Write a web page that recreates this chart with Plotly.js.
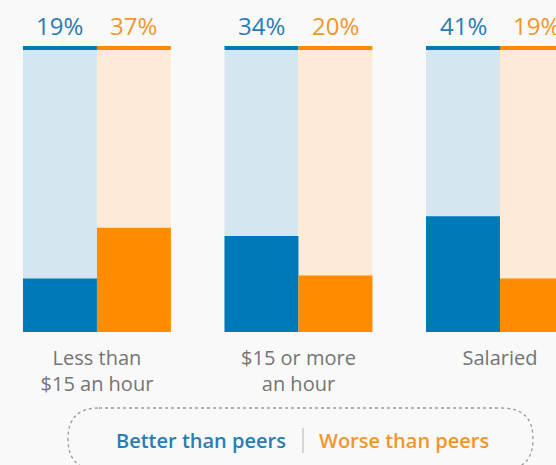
<!DOCTYPE html>
<html><head><meta charset="utf-8">
<script src="https://cdn.plot.ly/plotly-3.0.1.min.js"></script>
<style>html,body{margin:0;padding:0;background:#f9f9f9;}#chart{width:556px;height:465px;}</style>
</head><body><div id="chart"></div>
<script>
const categories = ["Less than<br>$15 an hour", "$15 or more<br>an hour", "Salaried"];
const better = [19, 34, 41];
const worse = [37, 20, 19];
const seriesNames = ["Better than peers", "Worse than peers"];
const fullScale = [100, 100, 100];

const W = 556, H = 465;
const barW = 0.367;
const capH = 1.4;
const xpos = categories.map((c, i) => i);
const blueDark = "#0079b8", orangeDark = "#ff8c00";
const blueLight = "#d5e6f1", orangeLight = "#fdebd8";
const blueText = "#2a7db3", orangeText = "#f2962b";

function barTrace(y, color, off, base) {
  const t = {type: "bar", x: xpos, y: y, width: barW, offset: off,
    marker: {color: color, line: {width: 0}}, hoverinfo: "skip", showlegend: false};
  if (base !== undefined) t.base = base;
  return t;
}
const traces = [
  barTrace(fullScale, blueLight, -barW),
  barTrace(fullScale, orangeLight, 0),
  barTrace(better, blueDark, -barW),
  barTrace(worse, orangeDark, 0),
  barTrace(fullScale.map(() => capH), blueDark, -barW, fullScale),
  barTrace(fullScale.map(() => capH), orangeDark, 0, fullScale)
];

const annotations = [];
xpos.forEach((x, i) => {
  annotations.push({x: x - barW / 2, y: fullScale[i] + capH, xref: "x", yref: "y", text: better[i] + "%",
    showarrow: false, yanchor: "bottom", yshift: 2, font: {family: "Open Sans", size: 24, color: blueText}});
  annotations.push({x: x + barW / 2, y: fullScale[i] + capH, xref: "x", yref: "y", text: worse[i] + "%",
    showarrow: false, yanchor: "bottom", yshift: 2, font: {family: "Open Sans", size: 24, color: orangeText}});
});

const plotBottom = 332;
const px = v => v / W;
const py = v => (plotBottom - v) / plotBottom;
annotations.push({x: px(288), y: py(440), xref: "paper", yref: "paper", text: seriesNames[0], showarrow: false,
  xanchor: "right", yanchor: "middle", font: {family: "Open Sans", size: 20, weight: 600, color: blueText}});
annotations.push({x: px(317), y: py(440), xref: "paper", yref: "paper", text: seriesNames[1], showarrow: false,
  xanchor: "left", yanchor: "middle", font: {family: "Open Sans", size: 20, weight: 600, color: orangeText}});

const L = 68, R = 533, T = 408, B = 470, r = 31;
const path = `M ${px(L + r)} ${py(T)} L ${px(R - r)} ${py(T)} Q ${px(R)} ${py(T)} ${px(R)} ${py(T + r)} ` +
  `Q ${px(R)} ${py(B)} ${px(R - r)} ${py(B)} L ${px(L + r)} ${py(B)} Q ${px(L)} ${py(B)} ${px(L)} ${py(T + r)} ` +
  `Q ${px(L)} ${py(T)} ${px(L + r)} ${py(T)} Z`;
const shapes = [
  {type: "path", xref: "paper", yref: "paper", path: path, line: {color: "#9a9a9a", width: 1.3, dash: "dot"}, layer: "below"},
  {type: "line", xref: "paper", yref: "paper", x0: px(303), x1: px(303), y0: py(428), y1: py(453), line: {color: "#c8c8c8", width: 1.5}}
];

const layout = {
  width: W, height: H,
  margin: {l: 0, r: 0, t: 0, b: H - plotBottom, pad: 0},
  paper_bgcolor: "#f9f9f9", plot_bgcolor: "#f9f9f9",
  barmode: "overlay", showlegend: false,
  xaxis: {range: [-0.481, 2.278], tickvals: xpos, ticktext: categories, showgrid: false, zeroline: false,
    showline: false, ticks: "", ticklabelstandoff: 12, fixedrange: true,
    tickfont: {family: "Open Sans", size: 20, color: "#747474"}},
  yaxis: {range: [0, 117.7], visible: false, fixedrange: true},
  annotations: annotations, shapes: shapes
};
Plotly.newPlot("chart", traces, layout, {displayModeBar: false, staticPlot: true});
</script></body></html>
